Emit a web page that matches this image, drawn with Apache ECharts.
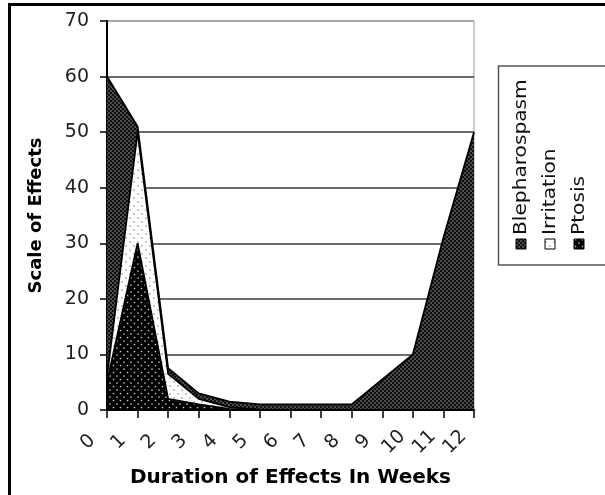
<!DOCTYPE html>
<html>
<head>
<meta charset="utf-8">
<script src="https://cdn.jsdelivr.net/npm/echarts@6/dist/echarts.min.js"></script>
<style>html,body{margin:0;padding:0;background:#fff;}#c{width:605px;height:495px;}</style>
</head>
<body>
<div id="c"></div>
<script>
// ---- data ----
var weeks = ['0','1','2','3','4','5','6','7','8','9','10','11','12'];
var ptosis = [5, 30, 2, 1, 0.2, 0, 0, 0, 0, 0, 0, 0, 0];
var irritation = [1, 20, 4.5, 1, 0.3, 0, 0, 0, 0, 0, 0, 0, 0];
var blepharospasm = [54, 1, 1, 1, 1, 1, 1, 1, 1, 5.5, 10, 31, 50];
var seriesNames = ['Blepharospasm', 'Irritation', 'Ptosis'];
var yTicks = [0, 10, 20, 30, 40, 50, 60, 70];

function makePattern(size, bg, dots, dotColor, r) {
  var c = document.createElement('canvas');
  c.width = size; c.height = size;
  var g = c.getContext('2d');
  g.fillStyle = bg; g.fillRect(0, 0, size, size);
  g.fillStyle = dotColor;
  dots.forEach(function (d) { g.beginPath(); g.arc(d[0], d[1], r, 0, Math.PI * 2); g.fill(); });
  return { image: c, repeat: 'repeat' };
}
var patBleph = makePattern(4, '#101010', [[1, 1], [3, 3]], '#a8a8a8', 0.75);
var patIrr = makePattern(8, '#ffffff', [[2, 2], [6, 6]], '#808080', 0.8);
var patPtosis = makePattern(7, '#000000', [[1.5, 1.5], [5, 5]], '#c8c8c8', 0.85);

var chart = echarts.init(document.getElementById('c'), null, { renderer: 'canvas' });
var font = 'DejaVu Sans';
function areaSeries(name, data, pat) {
  return {
    name: name, type: 'line', stack: 'total', data: data,
    symbol: 'none', smooth: false,
    lineStyle: { color: '#000', width: 1.8 },
    itemStyle: { color: '#000' },
    areaStyle: { color: pat, opacity: 1 },
    emphasis: { disabled: true }
  };
}
var gridColors = yTicks.map(function (v, i) { return i === yTicks.length - 1 ? '#9a9a9a' : '#3a3a3a'; });

var legendX = [521, 550, 579];
var legendPats = [patBleph, patIrr, patPtosis];
var legendGraphics = [];
seriesNames.forEach(function (n, i) {
  legendGraphics.push({
    type: 'rect', shape: { x: legendX[i] - 5, y: 239, width: 10, height: 10 },
    style: { fill: legendPats[i], stroke: '#000', lineWidth: 1 }
  });
  legendGraphics.push({
    type: 'text', x: legendX[i], y: 235, rotation: Math.PI / 2, scaleX: 1.12,
    style: { text: n, x: 0, y: 0, align: 'left', verticalAlign: 'middle', font: '18px "DejaVu Sans"', fill: '#111' }
  });
});

chart.setOption({
  animation: false,
  backgroundColor: '#fff',
  grid: { left: 107, right: 131, top: 21, bottom: 85, show: true, borderColor: '#9a9a9a', borderWidth: 1 },
  xAxis: {
    type: 'category', data: weeks, boundaryGap: false,
    name: 'Duration of Effects In Weeks', nameLocation: 'middle', nameGap: 58,
    nameTextStyle: { fontFamily: font, fontWeight: 'bold', fontSize: 20, color: '#000' },
    axisLine: { lineStyle: { color: '#000', width: 2 } },
    axisTick: { show: true, length: 8, lineStyle: { color: '#000', width: 1.5 } },
    axisLabel: { interval: 0, rotate: 45, align: 'center', verticalAlign: 'middle', padding: [0, 54, 0, 0], margin: 13,
      fontFamily: font, fontSize: 19, color: '#222' },
    splitLine: { show: false }
  },
  yAxis: {
    type: 'value', min: 0, max: 70, interval: 10,
    name: 'Scale of Effects', nameLocation: 'middle', nameGap: 62,
    nameTextStyle: { fontFamily: font, fontWeight: 'bold', fontSize: 18, color: '#000' },
    axisLine: { show: true, lineStyle: { color: '#000', width: 2 } },
    axisTick: { show: true, length: 7, lineStyle: { color: '#000', width: 1.5 } },
    axisLabel: { margin: 18, fontFamily: font, fontSize: 19, color: '#222' },
    splitLine: { show: true, lineStyle: { color: gridColors, width: 1.5 } }
  },
  series: [
    areaSeries('Ptosis', ptosis, patPtosis),
    areaSeries('Irritation', irritation, patIrr),
    areaSeries('Blepharospasm', blepharospasm, patBleph)
  ],
  graphic: [
    { type: 'rect', shape: { x: 9.5, y: 4.5, width: 640, height: 540 }, style: { fill: 'none', stroke: '#000', lineWidth: 3 }, z: 100 },
    { type: 'rect', shape: { x: 498.5, y: 66, width: 140, height: 199 }, style: { fill: '#fff', stroke: '#555', lineWidth: 1.5 } }
  ].concat(legendGraphics)
});
</script>
</body>
</html>
